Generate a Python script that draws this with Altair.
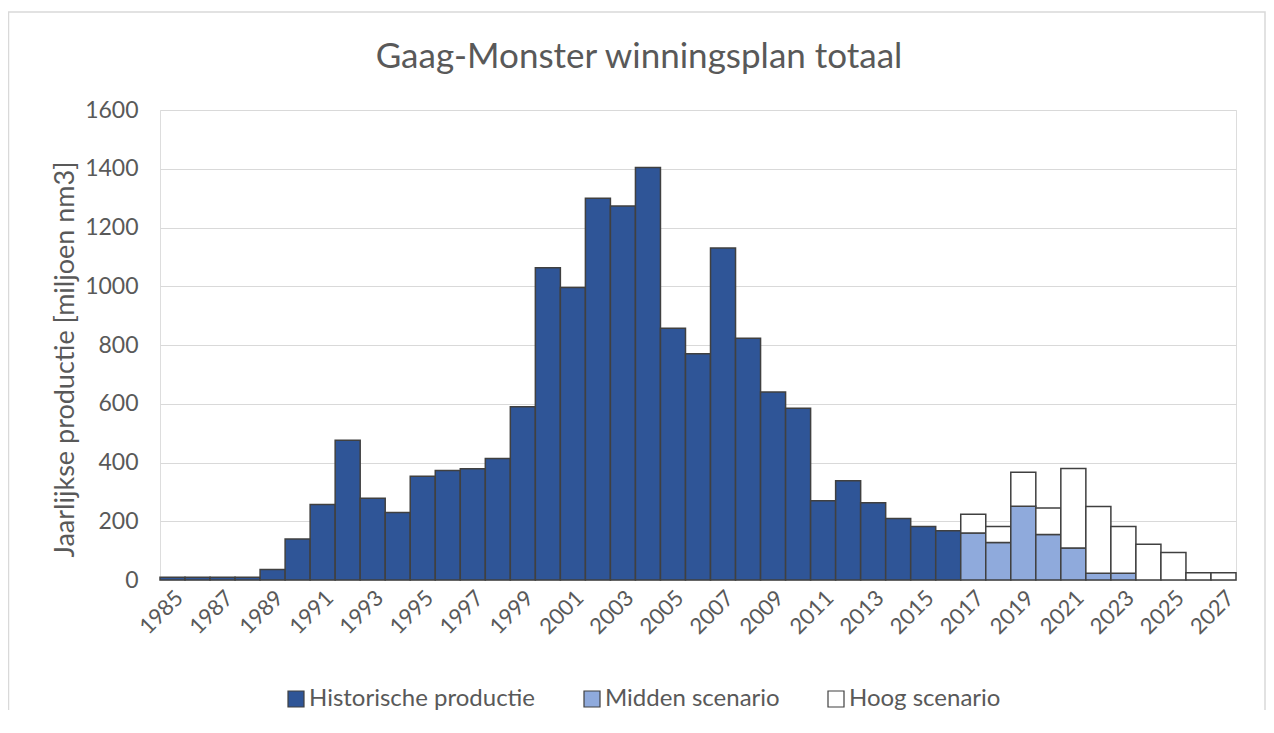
import altair as alt
import pandas as pd

# ---- data ----
hist_years = list(range(1985, 2017))
hist_values = [9, 9, 9, 9, 36, 140, 257, 476, 278, 230, 353, 373, 379, 414, 590,
               1063, 996, 1300, 1273, 1404, 857, 770, 1130, 823, 640, 585,
               270, 338, 263, 209, 182, 168]

scen_years = list(range(2017, 2028))
midden_values = [160, 128, 251, 155, 109, 23, 23, 0, 0, 0, 0]
hoog_totals = [224, 182, 367, 245, 380, 250, 182, 122, 94, 25, 25]

all_years = list(range(1985, 2028))
label_years = list(range(1985, 2028, 2))
series_names = ["Historische productie", "Midden scenario", "Hoog scenario"]
series_colors = ["#2F5597", "#8FAADC", "#FFFFFF"]
chart_title = "Gaag-Monster winningsplan totaal"

rows = []
for y, v in zip(hist_years, hist_values):
    rows.append({"jaar": y, "serie": series_names[0], "waarde": v, "volg": 0})
for y, m, h in zip(scen_years, midden_values, hoog_totals):
    if m > 0:
        rows.append({"jaar": y, "serie": series_names[1], "waarde": m, "volg": 1})
    rows.append({"jaar": y, "serie": series_names[2], "waarde": h - m, "volg": 2})
df = pd.DataFrame(rows)

FONT = "Lato"
GREY = "#595959"

bars = alt.Chart(df).mark_bar(stroke="#404040", strokeWidth=1.5).encode(
    x=alt.X("jaar:O",
            scale=alt.Scale(domain=all_years, paddingInner=0, paddingOuter=0),
            axis=alt.Axis(values=label_years, labelAngle=-45, title=None,
                          labelFontSize=22, labelColor=GREY, labelFont=FONT,
                          ticks=False, domainColor="#d9d9d9", domainWidth=1,
                          labelPadding=7)),
    y=alt.Y("waarde:Q", stack="zero",
            scale=alt.Scale(domain=[0, 1600], nice=False),
            axis=alt.Axis(values=list(range(0, 1601, 200)), format="d",
                          title="Jaarlijkse productie [miljoen nm3]",
                          titleFont=FONT, titleFontSize=27, titleFontWeight="normal",
                          titleColor=GREY, titlePadding=5, titleY=249,
                          labelFontSize=23, labelColor=GREY, labelFont=FONT,
                          labelPadding=22, ticks=False, domain=False,
                          gridColor="#d9d9d9", gridWidth=1)),
    color=alt.Color("serie:N",
                    scale=alt.Scale(domain=series_names, range=series_colors),
                    legend=alt.Legend(orient="none", direction="horizontal",
                                      legendX=124, legendY=577, title=None,
                                      symbolType="square", symbolSize=256,
                                      symbolStrokeColor="#404040", symbolStrokeWidth=1.2,
                                      labelFont=FONT, labelFontSize=24, labelColor=GREY,
                                      labelLimit=400, labelOffset=1, columnPadding=44)),
    order=alt.Order("volg:Q", sort="ascending"),
)

border = alt.Chart(pd.DataFrame({"a": [0]})).mark_rect(
    fill="transparent", stroke="#d9d9d9", strokeWidth=1.5
).encode(
    x=alt.value(-151.5), x2=alt.value(1105), y=alt.value(-98), y2=alt.value(640)
)

title = alt.Chart(pd.DataFrame({"t": [chart_title]})).mark_text(
    font=FONT, fontSize=35, color=GREY, align="center", baseline="middle"
).encode(
    text="t:N", x=alt.value(479), y=alt.value(-53)
)

chart = alt.layer(border, bars, title).properties(
    width=1076, height=470,
    autosize=alt.AutoSizeParams(type="none"),
    padding={"left": 152, "top": 102, "right": 30, "bottom": 130},
).configure_view(stroke=None).configure(background="white")

chart.save("out.html", embed_options={"renderer": "svg", "actions": False})
